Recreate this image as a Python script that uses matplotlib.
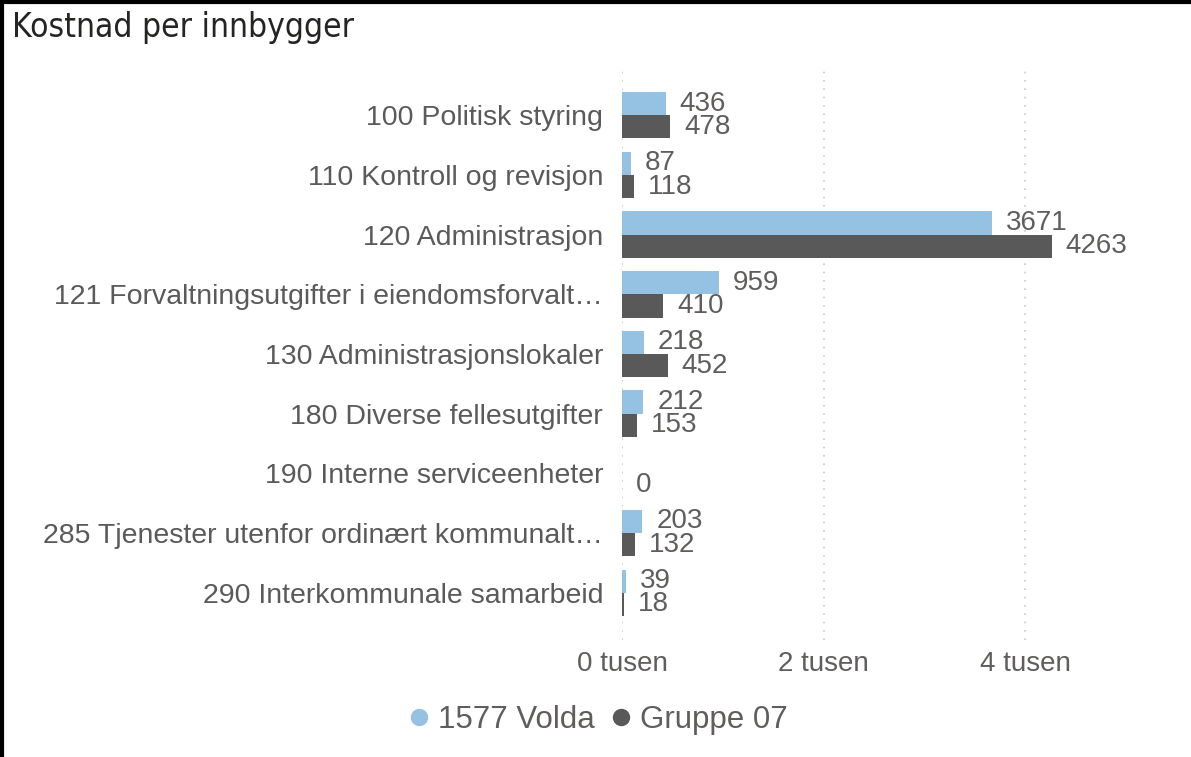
import matplotlib

matplotlib.use("Agg")
import matplotlib.pyplot as plt
from matplotlib.lines import Line2D
from matplotlib.ticker import FuncFormatter

categories = [
    "100 Politisk styring",
    "110 Kontroll og revisjon",
    "120 Administrasjon",
    "121 Forvaltningsutgifter i eiendomsforvalt…",
    "130 Administrasjonslokaler",
    "180 Diverse fellesutgifter",
    "190 Interne serviceenheter",
    "285 Tjenester utenfor ordinært kommunalt…",
    "290 Interkommunale samarbeid",
]
volda = [436, 87, 3671, 959, 218, 212, None, 203, 39]
gruppe = [478, 118, 4263, 410, 452, 153, 0, 132, 18]
series_names = ["1577 Volda", "Gruppe 07"]
colors = ["#95C1E2", "#595959"]

W, H = 1191, 757
fig = plt.figure(figsize=(W / 100, H / 100), dpi=100)
ax = fig.add_axes([622 / W, 1 - 640 / H, (1126 - 622) / W, (640 - 68) / H])

font = "Liberation Sans"
bh = 0.39
ys = list(range(len(categories)))
text_col = "#605E5C"
for vals, col, off in [(volda, colors[0], -bh / 2), (gruppe, colors[1], bh / 2)]:
    for y, v in zip(ys, vals):
        if v is None:
            continue
        ax.barh(y + off, v, height=bh, color=col)
        ax.annotate(str(v), (v, y + off), xytext=(10, 0), textcoords="offset points",
                    va="center", ha="left", fontsize=20, color=text_col, family=font)

ax.set_xlim(0, 5000)
ax.set_ylim(len(categories) - 0.21, -0.79)
ax.set_yticks(ys)
ax.set_yticklabels(categories, fontsize=20.5, color="#5A5A5A", family=font)
ax.set_xticks([0, 2000, 4000])
ax.xaxis.set_major_formatter(FuncFormatter(lambda v, p: f"{int(v / 1000)} tusen"))
ax.tick_params(axis="x", labelsize=20, labelcolor=text_col, length=0, pad=8)
ax.tick_params(axis="y", length=0, pad=13.5)
for lab in ax.get_xticklabels():
    lab.set_family(font)
ax.grid(axis="x", color="#C8C8C8", linestyle=(0, (1, 4)), linewidth=1.2)
ax.set_axisbelow(True)
for s in ax.spines.values():
    s.set_visible(False)

handles = [Line2D([], [], marker="o", linestyle="", color=c, markersize=11.5) for c in colors]
leg = fig.legend(handles, series_names, loc="center", bbox_to_anchor=(598 / W, 1 - 720 / H),
                 ncol=2, frameon=False, handlelength=0.7, handletextpad=0.25,
                 columnspacing=0.5, prop={"family": font, "size": 22.5})
for t in leg.get_texts():
    t.set_color(text_col)

fig.text(12 / W, 1 - 27 / H, "Kostnad per innbygger", fontsize=24, color="#252423",
         family="DejaVu Sans", fontstretch="condensed", va="center", ha="left")

# frame: top and left edges
fig.add_artist(Line2D([0, 1], [1 - 2 / H, 1 - 2 / H], color="black", lw=3, transform=fig.transFigure))
fig.add_artist(Line2D([1.5 / W, 1.5 / W], [0, 1], color="black", lw=3, transform=fig.transFigure))

fig.savefig("out.png", dpi=100)
